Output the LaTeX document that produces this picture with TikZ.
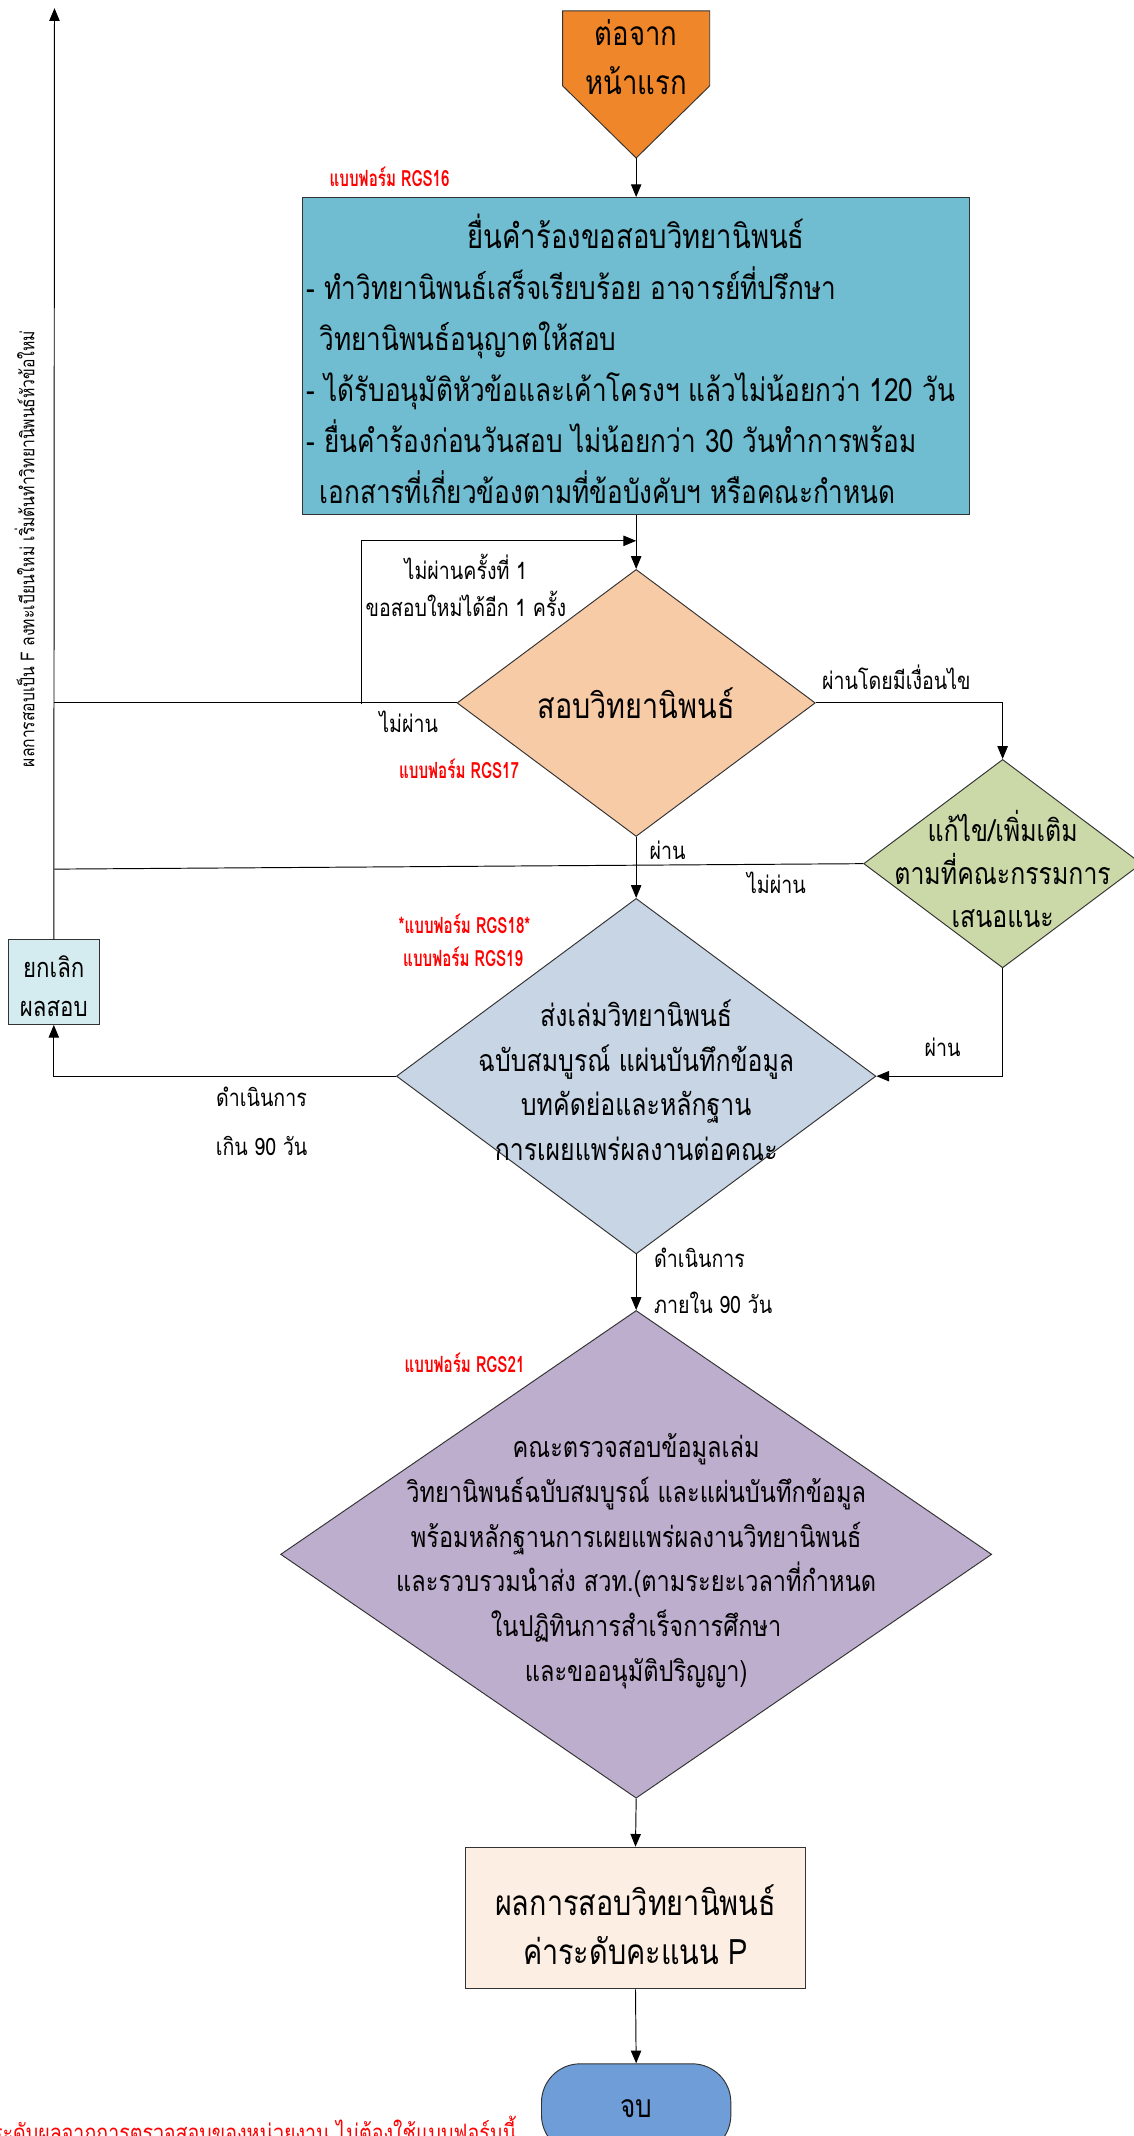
\documentclass[tikz,border=0pt]{standalone}
\usepackage{fontspec}
\usetikzlibrary{shapes.geometric,arrows.meta}
\newfontfamily\thai[Script=Thai,FakeStretch=0.82]{Loma}
\newfontfamily\thaibd[Script=Thai,FakeStretch=0.68]{Loma}
\newcommand\tsize[2]{\fontsize{#1}{#2}\selectfont}
\definecolor{startC}{HTML}{F0862A}
\definecolor{reqC}{HTML}{70BDD1}
\definecolor{examC}{HTML}{F8CBA7}
\definecolor{fixC}{HTML}{CAD9A7}
\definecolor{sendC}{HTML}{C8D5E5}
\definecolor{checkC}{HTML}{BEAECE}
\definecolor{cancelC}{HTML}{D4EBF0}
\definecolor{resC}{HTML}{FCEEE2}
\definecolor{finC}{HTML}{6F9DD8}
\begin{document}
\begin{tikzpicture}[x=0.03cm,y=-0.03cm,>={Triangle[length=8pt,width=6.5pt]},
	line/.style={line width=0.6pt,black},
	box/.style={draw=black!80,line width=0.6pt,inner sep=0pt},
	dia/.style={diamond,draw=black!80,line width=0.6pt,inner sep=0pt},
	txt/.style={font=\thai\tsize{19}{28}, align=center, inner sep=0pt},
	lbl/.style={font=\thai\tsize{15}{24}, align=center, inner sep=0pt},
	form/.style={font=\thaibd\bfseries\tsize{14}{20}, text=red, inner sep=0pt}]
	\def\u{0.03cm} % 1 don vi hinh
	\useasboundingbox (0,0) rectangle (832,1568);
	
	% mui ten bat dau
	\filldraw[fill=startC,draw=black!80,line width=0.6pt] (413,8)--(521,8)--(521,63)--(467,116)--(413,63)--cycle;
	\coordinate (start) at (467,116);
	\node[txt,font=\thai\tsize{21}{31}] (startt) at (467,42) {ต่อจาก\\หน้าแรก};
	
	% yuen kham rong
	\node[box,fill=reqC,minimum width=490*\u,minimum height=233*\u] (req) at (467,261.5) {};
	\node[txt,font=\thai\tsize{21}{32}] (reqt) at (467,170) {ยื่นคำร้องขอสอบวิทยานิพนธ์};
	\node[txt,font=\thai\tsize{20}{32},align=left,anchor=west] (reqb) at (225,283) {- ทำวิทยานิพนธ์เสร็จเรียบร้อย อาจารย์ที่ปรึกษา\\\hspace*{8pt}วิทยานิพนธ์อนุญาตให้สอบ\\- ได้รับอนุมัติหัวข้อและเค้าโครงฯ แล้วไม่น้อยกว่า 120 วัน\\- ยื่นคำร้องก่อนวันสอบ ไม่น้อยกว่า 30 วันทำการพร้อม\\\hspace*{8pt}เอกสารที่เกี่ยวข้องตามที่ข้อบังคับฯ หรือคณะกำหนด};
	\node[form] (f16) at (286,130) {แบบฟอร์ม RGS16};
	
	% sop
	\node[dia,fill=examC,minimum width=263*\u,minimum height=196*\u] (d1) at (467,516) {};
	\node[txt,font=\thai\tsize{22}{30}] (d1t) at (d1) {สอบวิทยานิพนธ์};
	\node[form] (f17) at (337,564) {แบบฟอร์ม RGS17};
	
	% kae khai
	\node[dia,fill=fixC,minimum width=204*\u,minimum height=153*\u] (fix) at (736,634) {};
	\node[txt,font=\thai\tsize{19}{27}] (fixt) at (736,638) {แก้ไข/เพิ่มเติม\\ตามที่คณะกรรมการ\\เสนอแนะ};
	
	% song lem
	\node[dia,fill=sendC,minimum width=352*\u,minimum height=261*\u] (d2) at (467,790) {};
	\node[txt] (d2t) at (467,793) {ส่งเล่มวิทยานิพนธ์\\ฉบับสมบูรณ์ แผ่นบันทึกข้อมูล\\บทคัดย่อและหลักฐาน\\การเผยแพร่ผลงานต่อคณะ};
	\node[form] (f18) at (341,678) {*แบบฟอร์ม RGS18*};
	\node[form] (f19) at (340,702) {แบบฟอร์ม RGS19};
	
	% yok loek
	\node[box,fill=cancelC,minimum width=67*\u,minimum height=62*\u] (cancel) at (39.5,721) {};
	\node[txt,font=\thai\tsize{17}{24}] (cancelt) at (39.5,724) {ยกเลิก\\ผลสอบ};
	
	% khana truat sop
	\node[dia,fill=checkC,minimum width=522*\u,minimum height=358*\u] (d3) at (467,1141) {};
	\node[txt,font=\thai\tsize{18}{28}] (d3t) at (467,1146) {คณะตรวจสอบข้อมูลเล่ม\\วิทยานิพนธ์ฉบับสมบูรณ์ และแผ่นบันทึกข้อมูล\\พร้อมหลักฐานการเผยแพร่ผลงานวิทยานิพนธ์\\และรวบรวมนำส่ง สวท.(ตามระยะเวลาที่กำหนด\\ในปฏิทินการสำเร็จการศึกษา\\และขออนุมัติปริญญา)};
	\node[form] (f21) at (341,1000) {แบบฟอร์ม RGS21};
	
	% phon
	\node[box,fill=resC,minimum width=249*\u,minimum height=104*\u] (res) at (466.5,1408) {};
	\node[txt,font=\thai\tsize{22}{31}] (rest) at (466.5,1413) {ผลการสอบวิทยานิพนธ์\\ค่าระดับคะแนน P};
	\node[box,fill=finC,rounded corners=0.85cm,minimum width=139*\u,minimum height=66*\u] (fin) at (467,1548) {};
	\node[txt,font=\thai\tsize{20}{28}] (fint) at (467,1548) {จบ};
	
	% sen chueam
	\coordinate (top) at (40,6);
	\coordinate (loopt) at (467,397);
	\coordinate (loopb) at (265,517);
	\coordinate (fixj) at (40,638);
	\draw[line,->] (start) -- (req.north);
	\draw[line,->] (req.south) -- (d1.north);
	\draw[line,->] (loopb) |- (loopt);
	\draw[line] (d1.west) -- (d1.west -| cancel.north);
	\draw[line,->] (d1.east) -| (fix.north);
	\draw[line] (fix.west) -- (fixj);
	\draw[line,->] (fix.south) |- (d2.east);
	\draw[line,->] (d1.south) -- (d2.north);
	\draw[line,->] (d2.west) -| (cancel.south);
	\draw[line,->] (cancel.north) -- (top);
	\draw[line,->] (d2.south) -- (d3.north);
	\draw[line,->] (d3.south) -- (res.north);
	\draw[line,->] (res.south) -- (fin.north);
	
	% khao khwam
	\node[lbl] (l1) at (342,416) {ไม่ผ่านครั้งที่ 1};
	\node[lbl] (l2) at (342,443) {ขอสอบใหม่ได้อีก 1 ครั้ง};
	\node[lbl] (l3) at (300,530) {ไม่ผ่าน};
	\node[lbl] (l4) at (658,497) {ผ่านโดยมีเงื่อนไข};
	\node[lbl] (l5) at (490,624) {ผ่าน};
	\node[lbl] (l6) at (570,648) {ไม่ผ่าน};
	\node[lbl] (l7) at (692,769) {ผ่าน};
	\node[lbl,font=\thai\tsize{15}{31}] (l8) at (192,823) {ดำเนินการ\\เกิน 90 วัน};
	\node[lbl,anchor=west,align=left,font=\thai\tsize{15}{29}] (l9) at (480,940) {ดำเนินการ\\ภายใน 90 วัน};
	\node[lbl,rotate=90,font=\thai\tsize{12}{16}] (fnote) at (18,403) {ผลการสอบเป็น F ลงทะเบียนใหม่ เริ่มต้นทำวิทยานิพนธ์หัวข้อใหม่};
	\node[lbl,anchor=base west,text=red] (bnote) at (-6,1572) {ระดับผลจากการตรวจสอบของหน่วยงาน ไม่ต้องใช้แบบฟอร์มนี้};
\end{tikzpicture}
\end{document}
